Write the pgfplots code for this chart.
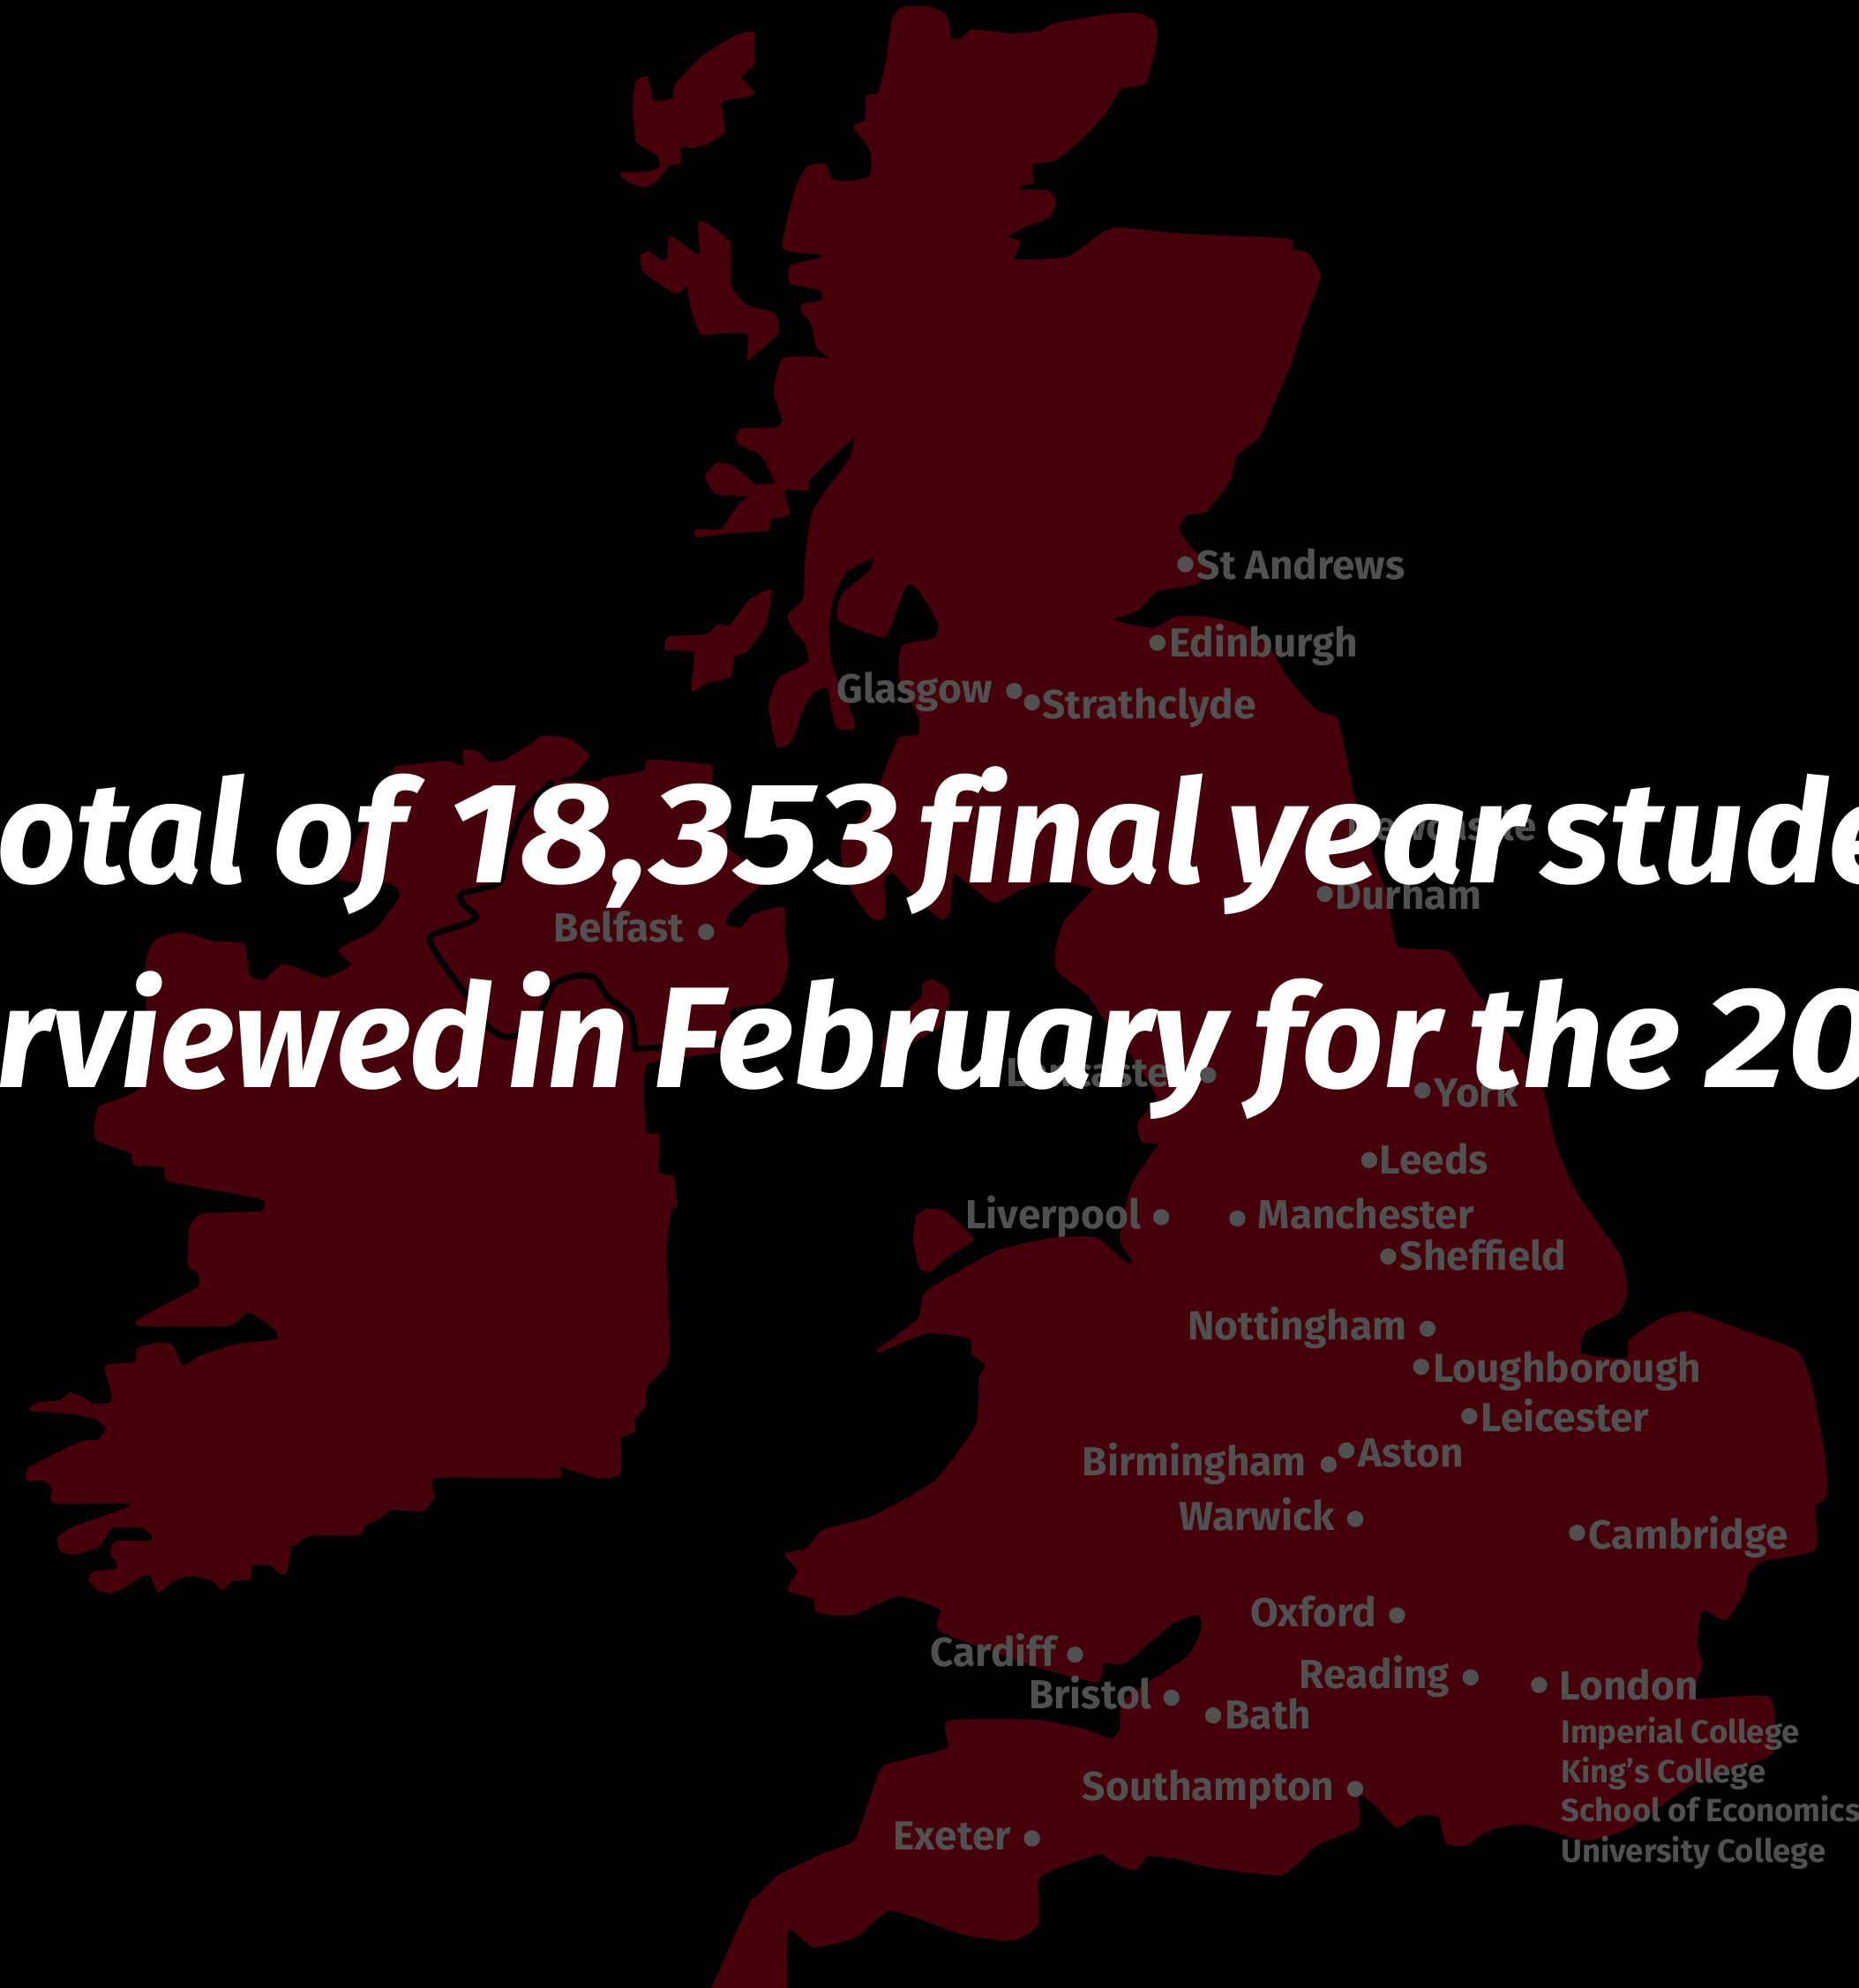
\documentclass[border=0pt]{standalone}
\usepackage{fontspec}
\setmainfont{Fira Sans}
\usepackage{pgfplots}
\pgfplotsset{compat=1.18}
\definecolor{land}{HTML}{45000A}
\definecolor{lab}{HTML}{505050}
\pgfplotsset{landmass/.style={fill=land,draw=land,line width=0.8pt,line join=round,smooth,tension=0.3}}
\newcommand{\rlab}[3]{\node[anchor=base west,inner sep=0pt,yshift=-0.5pt,text=lab] at (axis cs:#1,#2) {\fontsize{16pt}{17pt}\selectfont\bfseries #3};}
\newcommand{\llab}[3]{\node[anchor=base east,inner sep=0pt,yshift=-0.5pt,text=lab] at (axis cs:#1,#2) {\fontsize{16pt}{17pt}\selectfont\bfseries #3};}
\newcommand{\slab}[3]{\node[anchor=base west,inner sep=0pt,yshift=-0.5pt,text=lab] at (axis cs:#1,#2) {\fontsize{12.7pt}{14pt}\selectfont\bfseries #3};}
\newcommand{\word}[3]{\node[anchor=base west,inner sep=0pt,text=white] at (axis cs:#1,#2) {\fontsize{56.6pt}{60pt}\selectfont\bfseries\itshape #3};}
\begin{document}
\begin{tikzpicture}[x=1pt,y=1pt]
\useasboundingbox (0,0) rectangle (733,784);
\fill[black] (-5,-5) rectangle (740,790);
\begin{axis}[at={(0,0)},anchor=south west,scale only axis,width=733pt,height=784pt,
  xmin=0,xmax=1466,ymin=0,ymax=1568,y dir=reverse,hide axis,
  every axis plot/.append style={no markers}]
% Great Britain
\addplot[landmass] coordinates {
(704,15)(712,6)(733,6)(746,13)(750,31)(758,31)(767,24)(798,27)(821,25)(832,19)(874,12)(897,11)(910,17)(912,31)
(903,65)(884,69)(872,88)(855,107)(832,126)(814,129)(814,144)(804,146)(805,150)(827,151)(832,160)(827,171)(809,178)(793,187)(804,191)(800,205)
(840,204)(855,195)(870,184)(882,180)(931,185)(1015,189)(1019,198)(1031,200)(1041,218)(1027,256)(1019,283)(1000,328)(993,344)(975,359)(970,378)(951,403)(937,405)(929,416)(937,430)
(954,447)(943,460)(912,466)(897,481)(876,489)(909,496)(928,487)(951,487)(977,493)(1000,510)(1015,535)(1038,561)(1054,567)
(1062,601)(1069,634)(1093,707)(1102,747)(1142,751)(1160,777)(1213,850)(1227,905)(1244,943)(1277,990)(1283,1019)(1275,1036)(1250,1049)(1247,1068)(1283,1072)(1286,1057)
(1311,1040)(1333,1035)(1372,1049)(1417,1066)(1428,1091)(1439,1150)(1440,1180)(1431,1188)(1431,1222)(1389,1231)(1378,1243)(1375,1256)(1361,1277)(1342,1269)(1338,1298)(1342,1313)(1337,1340)(1395,1339)(1397,1383)
(1339,1404)(1283,1442)(1250,1451)(1205,1438)(1177,1442)(1155,1455)(1141,1453)(1135,1432)(1116,1432)(1102,1441)(1085,1423)(1071,1415)(1071,1440)(1038,1455)(1011,1478)(954,1472)(926,1465)(870,1461)(826,1476)(818,1484)(818,1518)(798,1530)(759,1525)(703,1506)(675,1527)(642,1535)(622,1520)(620,1539)(617,1580)
(560,1580)(570,1550)(592,1501)(597,1497)(614,1480)(648,1463)(675,1451)(695,1396)(712,1389)(748,1379)(748,1358)(815,1357)(854,1364)(876,1372)(884,1364)(887,1341)(937,1307)(948,1286)(946,1273)(926,1279)(887,1311)(870,1311)(865,1326)
(815,1313)(742,1286)(742,1269)(709,1258)(672,1273)(645,1271)(642,1260)(622,1254)(630,1239)(620,1226)(636,1222)(650,1207)(687,1197)(737,1169)(770,1125)(773,1087)(778,1076)(767,1068)(765,1055)(731,1051)(692,1066)(725,1040)(731,1019)(787,987)(831,977)(865,977)(887,996)(895,996)(884,977)
(893,935)(914,903)(901,900)(898,886)(913,865)(893,833)(872,805)(858,784)(835,766)(833,750)(840,727)(862,701)(831,694)(805,701)(783,711)(752,688)(749,719)(742,724)(716,700)(705,688)(697,691)(697,723)(687,723)(674,705)(667,690)(664,666)(682,643)(694,620)(700,604)
(702,599)(710,582)(725,580)(725,565)(710,535)(712,510)(737,504)(741,493)(733,477)(722,462)(714,462)(699,500)(689,500)(662,489)(664,470)(687,450)(689,439)(668,450)(657,470)(653,496)(655,523)(664,546)(674,573)(660,573)(653,542)(641,546)(632,561)(624,584)(613,588)(607,557)(615,535)(638,523)(636,508)(626,496)(622,485)(634,473)(636,439)(641,405)(653,386)(670,363)(674,344)(638,378)(638,386)(618,386)(622,405)(607,409)(605,418)(573,420)(550,423)(550,418)(569,418)(584,397)(594,391)(565,389)(557,376)(565,366)(578,368)(595,382)(612,381)(601,359)(582,349)(584,339)(611,338)(618,332)(611,309)(617,284)(634,282)(657,283)(645,275)(641,256)(632,244)(634,240)(649,237)(647,228)(624,223)(624,210)(647,204)(647,200)(618,195)(628,149)(637,132)(651,130)(655,141)(668,144)(687,139)(687,118)(674,100)(683,95)(684,76)(693,74)(700,46)(704,15)
} --cycle;
% Lewis
\addplot[landmass] coordinates {
(502,111)(500,84)(502,65)(510,61)(515,80)(531,78)(533,67)(555,44)(580,29)(594,26)(594,50)(584,61)(594,74)(569,80)(571,103)(561,111)(546,116)(536,115)(536,128)(527,130)(519,141)(508,147)(496,143)(490,137)(511,136)(521,132)(519,122)(504,113)(502,111)
} --cycle;
% Skye
\addplot[landmass] coordinates {
(506,202)(512,199)(521,206)(527,204)(529,187)(552,202)(552,175)(575,191)(576,225)(588,241)(611,248)(613,263)(595,279)(590,283)(590,263)(569,262)(553,263)(546,244)(542,225)(533,231)(508,214)(506,202)
} --cycle;
% Islay and Jura
\addplot[landmass] coordinates {
(525,512)(527,503)(557,501)(567,493)(576,494)(592,473)(608,466)(603,493)(588,514)(578,517)(576,533)(557,538)(546,544)(548,514)(525,512)
} --cycle;
% Isle of Man
\addplot[landmass] coordinates {
(728,777)(735,773)(747,781)(748,791)(740,810)(701,831)(696,824)(710,803)(727,787)(728,777)
} --cycle;
% Anglesey
\addplot[landmass] coordinates {
(723,960)(731,954)(745,956)(767,977)(748,990)(734,1002)(726,1000)(721,977)(723,960)
} --cycle;
% Isle of Wight
\addplot[landmass] coordinates {
(866,1459)(894,1450)(907,1457)(896,1474)(882,1470)(866,1459)
} --cycle;
% Ireland
\addplot[landmass] coordinates {
(312,605)(352,601)(366,605)(366,592)(378,594)(384,601)(396,601)(420,587)(428,581)(448,583)(464,596)(452,610)(436,616)(472,617)(477,614)(508,609)(512,600)(560,604)(561,617)(571,650)(575,671)(594,682)(603,689)(599,698)(575,719)(572,730)(585,732)(594,722)(618,716)(618,736)(621,761)(615,782)(603,791)(582,794)(575,798)(573,828)(510,839)
(509,892)(519,896)(519,925)(531,929)(533,951)(529,954)(525,987)(527,1071)(509,1094)(509,1107)(500,1120)(500,1129)(489,1134)(489,1162)(472,1165)(440,1156)(440,1165)(344,1165)
(342,1181)(334,1191)(325,1191)(309,1190)(299,1197)(287,1203)(283,1210)(248,1210)(239,1213)(233,1218)(229,1219)(226,1239)(222,1241)(213,1234)(198,1234)(197,1245)(183,1246)(176,1253)(167,1246)(151,1242)(137,1246)(125,1255)(119,1242)(113,1242)(97,1252)(87,1256)(77,1253)(71,1246)(74,1240)(92,1238)(92,1230)(88,1227)(89,1219)(94,1216)(118,1216)(121,1211)(111,1204)(89,1204)(84,1210)(78,1219)(60,1225)(48,1223)(46,1213)(60,1204)(100,1190)(100,1185)(43,1185)(42,1174)(35,1167)(22,1167)(23,1158)(63,1138)(78,1136)(84,1126)(74,1118)(53,1114)(24,1112)(30,1107)(48,1105)(55,1099)(63,1102)(74,1108)(87,1107)(89,1100)(84,1083)(85,1077)(107,1075)(109,1064)(123,1060)(135,1061)(144,1078)(158,1070)(186,1061)(218,1057)
(218,1049)(196,1034)(180,1045)(107,1044)(156,1016)(156,1003)(149,998)(150,969)(160,958)(206,956)(206,945)(134,931)(130,920)(106,918)(104,909)(76,898)(78,874)(96,867)(112,858)(120,832)(116,792)(116,756)(124,741)(144,736)(168,743)(192,745)(196,769)(208,774)(224,761)(256,772)(278,761)(268,749)(296,734)(316,707)(308,696)(268,692)(292,645)(312,605)
} --cycle;
% border of Northern Ireland
\addplot[black,line width=2.4pt,line join=round,smooth,tension=0.4] coordinates {
(436,616)(412,641)(400,672)(394,696)(364,705)(366,714)(376,723)(366,729)(340,738)(344,752)(368,785)(384,809)(400,818)(420,809)(436,778)(452,770)(469,771)(480,787)(497,800)(501,821)(501,827)(520,826)(575,822)
};
% universities
\addplot[only marks,mark=*,mark size=3pt,mark options={fill=lab,draw=lab}] coordinates {
(935,445)(913,507)(800,545)(814,554)(1045,705)(557,735)(953,848)(1122,860)(1080,915)(916,960)(976,961)(1095,991)(1126,1048)(1121,1078)(1159,1117)(1062,1144)(1048,1155)(1069,1198)(1244,1209)(1102,1274)(848,1305)(1160,1323)(1214,1329)(924,1339)(957,1353)(1069,1411)(814,1450)
};
\rlab{944}{456}{St Andrews}
\rlab{922}{517}{Edinburgh}
\llab{783}{553}{Glasgow}
\rlab{822}{566}{Strathclyde}
\rlab{1062}{662}{Newcastle}
\rlab{1053}{716}{Durham}
\llab{540}{742}{Belfast}
\llab{936}{856}{Lancaster}
\rlab{1131}{872}{York}
\rlab{1088}{925}{Leeds}
\llab{900}{968}{Liverpool}
\rlab{992}{968}{Manchester}
\rlab{1104}{1001}{Sheffield}
\llab{1110}{1056}{Nottingham}
\rlab{1130}{1089}{Loughborough}
\rlab{1168}{1128}{Leicester}
\rlab{1071}{1156}{Aston}
\llab{1031}{1163}{Birmingham}
\llab{1053}{1206}{Warwick}
\rlab{1253}{1221}{Cambridge}
\llab{1086}{1282}{Oxford}
\llab{833}{1313}{Cardiff}
\llab{1144}{1331}{Reading}
\rlab{1230}{1340}{London}
\llab{909}{1347}{Bristol}
\rlab{966}{1363}{Bath}
\llab{1053}{1419}{Southampton}
\llab{798}{1458}{Exeter}
\slab{1231}{1374}{Imperial College}
\slab{1231}{1405}{King's College}
\slab{1231}{1436}{School of Economics}
\slab{1231}{1468}{University College}
% headline, set word by word
\word{-3}{696}{\scalebox{0.97}[1]{otal}}
\word{215}{696}{of}
\word{352}{696}{\scalebox{1.12}[1]{18,353}}
\word{724}{696}{\scalebox{0.97}[1]{f\kern0pt inal}}
\word{967}{696}{\scalebox{1.05}[1]{year}}
\word{1216}{696}{stude}
\word{-3}{858}{\scalebox{0.97}[1]{rviewed}}
\word{400}{858}{in}
\word{515}{858}{February}
\word{988}{858}{for}
\word{1158}{858}{the}
\word{1345}{858}{\scalebox{1.12}[1]{20}}
\end{axis}
\end{tikzpicture}
\end{document}
